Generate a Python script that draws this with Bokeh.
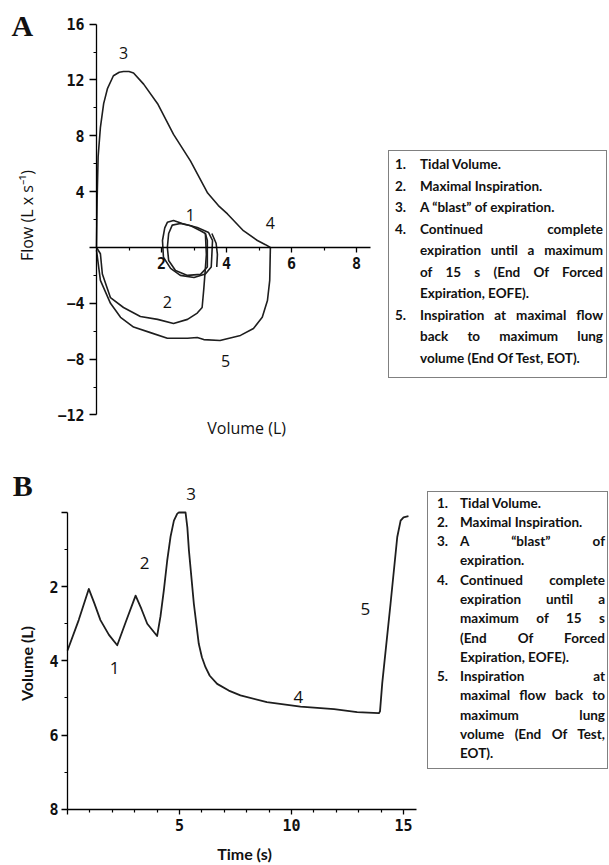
import math
from bokeh.plotting import figure
from bokeh.models import LinearAxis, FixedTicker, Range1d, Div
from bokeh.layouts import row, column
from bokeh.core.properties import value
from bokeh.embed import file_html
from bokeh.resources import INLINE

# ---------------- Panel A data: flow (L/s) vs volume (L) ----------------
tidal1_vol = [2.06, 2.03, 2.10, 2.18, 2.37, 2.64, 3.10, 3.45, 3.57, 3.55, 3.53, 3.35, 3.00, 2.58, 2.28, 2.06]
tidal1_flow = [-0.7, 0.5, 1.4, 1.8, 1.93, 1.72, 1.43, 1.07, 0.5, -0.5, -1.4, -1.9, -2.15, -2.0, -1.5, -0.7]

tidal2_vol = [2.18, 2.22, 2.33, 2.58, 2.90, 3.20, 3.35, 3.41, 3.41, 3.20, 2.80, 2.43, 2.22, 2.18]
tidal2_flow = [0.0, 1.0, 1.6, 1.72, 1.55, 1.2, 1.0, 0.5, -1.4, -1.93, -2.0, -1.65, -0.93, 0.0]

tidal3_vol = [3.55, 3.68, 3.72, 3.70]
tidal3_flow = [1.0, 0.3, -0.5, -1.4]

insp_vol = [3.35, 3.38, 3.35, 3.30, 3.25, 3.10, 2.80, 2.37, 1.88, 1.35, 0.83, 0.43, 0.18, 0.12, 0.0]
insp_flow = [1.0, -0.5, -1.5, -3.0, -4.3, -4.7, -5.15, -5.45, -5.15, -4.94, -4.3, -3.6, -1.9, -0.45, 0.0]

blast_vol = [0.0, 0.02, 0.05, 0.12, 0.22, 0.34, 0.52, 0.70, 0.83, 1.00, 1.14, 1.45, 1.88, 2.37,
             2.89, 3.42, 3.75, 4.03, 4.52, 4.95, 5.20, 5.35]
blast_flow = [0.0, 3.5, 6.5, 8.6, 10.3, 11.4, 12.3, 12.55, 12.6, 12.6, 12.5, 11.7, 10.3, 8.1,
              6.2, 3.9, 3.0, 2.4, 1.2, 0.5, 0.2, 0.0]

eot_vol = [5.35, 5.33, 5.26, 5.10, 4.83, 4.43, 3.80, 3.30, 3.10, 2.80, 2.18, 1.66, 1.14, 0.74, 0.43, 0.12, 0.0]
eot_flow = [0.0, -2.36, -3.8, -5.0, -5.8, -6.3, -6.66, -6.6, -6.45, -6.5, -6.5, -6.1, -5.7, -5.0, -4.0, -2.36, -0.2]

a_y_ticks = [-12, -8, -4, 0, 4, 8, 12, 16]
a_y_minor = [-10, -6, -2, 2, 6, 10, 14]
a_x_ticks = [2, 4, 6, 8]
a_x_minor = [1, 3, 5, 7]

# ---------------- Panel B data: volume (L) vs time (s) ----------------
time_s = [0.0, 0.5, 0.95, 1.2, 1.47, 1.85, 2.22, 2.6, 3.04, 3.3, 3.56, 4.0, 4.15, 4.3, 4.45, 4.6,
          4.75, 4.9, 4.97, 5.27, 5.35, 5.42, 5.64, 5.86, 6.0, 6.16, 6.35, 6.68, 7.2, 7.72, 8.9,
          10.4, 11.9, 12.93, 13.9, 13.95, 14.05, 14.42, 14.72, 14.87, 15.0, 15.22]
volume_l = [3.72, 2.9, 2.06, 2.45, 2.9, 3.3, 3.58, 2.95, 2.24, 2.6, 3.0, 3.33, 2.8, 2.1, 1.3, 0.65,
            0.22, 0.03, 0.0, 0.0, 0.4, 1.02, 2.46, 3.54, 3.9, 4.17, 4.4, 4.62, 4.8, 4.93, 5.11,
            5.23, 5.3, 5.38, 5.41, 5.36, 4.6, 2.46, 0.66, 0.22, 0.13, 0.1]

b_y_ticks = [0, 2, 4, 6, 8]
b_y_minor = [1, 3, 5, 7]
b_x_ticks = [0, 5, 10, 15]
b_x_minor = [1, 2, 3, 4, 6, 7, 8, 9, 11, 12, 13, 14]

curve_numbers = ["1", "2", "3", "4", "5"]

legend_a = [
    ("1", ["Tidal Volume."]),
    ("2", ["Maximal Inspiration."]),
    ("3", ["A \u201cblast\u201d of expiration."]),
    ("4", ["Continued complete", "expiration until a maximum", "of 15 s (End Of Forced", "Expiration, EOFE)."]),
    ("5", ["Inspiration at maximal flow", "back to maximum lung", "volume (End Of Test, EOT)."]),
]
legend_b = [
    ("1", ["Tidal Volume."]),
    ("2", ["Maximal Inspiration."]),
    ("3", ["A \u201cblast\u201d of", "expiration."]),
    ("4", ["Continued complete", "expiration until a", "maximum of 15 s", "(End Of Forced", "Expiration, EOFE)."]),
    ("5", ["Inspiration at", "maximal flow back to", "maximum lung", "volume (End Of Test,", "EOT)."]),
]

INK = "#1e1e1e"


def style_axis(ax, tick_out=6, standoff=5):
    ax.axis_line_color = "black"
    ax.axis_line_width = 1.3
    ax.major_tick_line_color = "black"
    ax.major_tick_line_width = 1.3
    ax.major_tick_out = tick_out
    ax.major_tick_in = 0
    ax.minor_tick_line_color = "black"
    ax.minor_tick_line_width = 1.2
    ax.minor_tick_out = 3
    ax.minor_tick_in = 0
    ax.major_label_text_font = "DejaVu Sans Mono"
    ax.major_label_text_font_style = "bold"
    ax.major_label_text_font_size = "15px"
    ax.major_label_text_color = "#111111"
    ax.major_label_standoff = standoff


def legend_html(items, width, height, pad_top, pad_left, num_w, pad_right, font_size, line_h):
    parts = []
    for num, lines in items:
        sub = []
        for i, ln in enumerate(lines):
            last = i == len(lines) - 1
            align = "text-align:left;" if last else "text-align:justify;text-align-last:justify;"
            sub.append(f'<div style="{align}">{ln}</div>')
        parts.append(
            f'<div style="display:flex;"><div style="flex:0 0 {num_w}px;">{num}.</div>'
            f'<div style="flex:1 1 auto;">{"".join(sub)}</div></div>'
        )
    return (
        f'<div style="box-sizing:border-box;width:{width}px;height:{height}px;'
        f'border:1px solid #808080;padding:{pad_top}px {pad_right}px 0 {pad_left}px;'
        f'font-family:Lato,sans-serif;font-weight:700;font-size:{font_size}px;'
        f'line-height:{line_h}px;color:#111;background:#fff;">' + "".join(parts) + "</div>"
    )


# ---------------- Panel A figure ----------------
pa = figure(width=386, height=448, x_range=Range1d(-2.954, 8.923), y_range=Range1d(-14.40, 17.69),
            x_axis_type=None, y_axis_type=None, toolbar_location=None, output_backend="svg",
            min_border=0, outline_line_color=None, background_fill_color="white",
            border_fill_color="white")

xa = LinearAxis(fixed_location=0, bounds=(0, 8.43),
                ticker=FixedTicker(ticks=a_x_ticks, minor_ticks=a_x_minor))
style_axis(xa, tick_out=5, standoff=5)
pa.add_layout(xa, "below")

ya = LinearAxis(fixed_location=0, bounds=(-12, 16),
                ticker=FixedTicker(ticks=a_y_ticks, minor_ticks=a_y_minor))
style_axis(ya, tick_out=7, standoff=5)
ya.major_label_overrides = {0: ""}
pa.add_layout(ya, "left")

for xs, ys in [(tidal1_vol, tidal1_flow), (tidal2_vol, tidal2_flow), (tidal3_vol, tidal3_flow),
               (insp_vol, insp_flow), (blast_vol, blast_flow), (eot_vol, eot_flow)]:
    pa.line(xs, ys, line_color=INK, line_width=1.6, line_join="round")

pa.text(x=[2.89, 2.18, 0.83, 5.35, 3.97], y=[2.29, -3.94, 13.9, 1.72, -8.1], text=curve_numbers,
        text_font=value("Open Sans"), text_font_size="16px", text_align="center",
        text_baseline="middle", text_color="#111111")
pa.text(x=[4.62], y=[-12.9], text=["Volume (L)"], text_font=value("Open Sans"),
        text_font_size="16px", text_align="center", text_baseline="middle", text_color="#111111")
pa.text(x=[-2.15], y=[2.29], text=["Flow (L x s\u207b\u00b9)"], angle=math.pi / 2,
        text_font=value("Open Sans"), text_font_size="16px", text_align="center",
        text_baseline="middle", text_color="#111111")
pa.text(x=[-2.28], y=[15.9], text=["A"], text_font=value("Liberation Serif"),
        text_font_style="bold", text_font_size="30px", text_align="center",
        text_baseline="middle", text_color="#111111")

# ---------------- Panel B figure ----------------
pb = figure(width=427, height=417, x_range=Range1d(-2.991, 16.07), y_range=Range1d(9.515, -1.725),
            x_axis_type=None, y_axis_type=None, toolbar_location=None, output_backend="svg",
            min_border=0, outline_line_color=None, background_fill_color="white",
            border_fill_color="white")

xb = LinearAxis(fixed_location=8, bounds=(0, 15.6),
                ticker=FixedTicker(ticks=b_x_ticks, minor_ticks=b_x_minor))
style_axis(xb, tick_out=5, standoff=5)
xb.major_label_overrides = {0: ""}
pb.add_layout(xb, "below")

yb = LinearAxis(fixed_location=0, bounds=(0, 8),
                ticker=FixedTicker(ticks=b_y_ticks, minor_ticks=b_y_minor))
style_axis(yb, tick_out=6, standoff=3)
yb.major_label_overrides = {0: ""}
pb.add_layout(yb, "left")

pb.line(time_s, volume_l, line_color=INK, line_width=1.8, line_join="round")

pb.text(x=[2.1, 3.44, 5.52, 10.3, 13.3], y=[4.18, 1.37, -0.51, 4.96, 2.6], text=curve_numbers,
        text_font=value("Open Sans"), text_font_size="17px", text_align="center",
        text_baseline="middle", text_color="#111111")
pb.text(x=[7.9], y=[9.2], text=["Time (s)"], text_font=value("Lato"), text_font_style="bold",
        text_font_size="16px", text_align="center", text_baseline="middle", text_color="#111111")
pb.text(x=[-1.83], y=[4.07], text=["Volume (L)"], angle=math.pi / 2, text_font=value("Lato"),
        text_font_style="bold", text_font_size="16px", text_align="center",
        text_baseline="middle", text_color="#111111")
pb.text(x=[-2.0], y=[-0.73], text=["B"], text_font=value("Liberation Serif"),
        text_font_style="bold", text_font_size="30px", text_align="center",
        text_baseline="middle", text_color="#111111")

# ---------------- Legend boxes ----------------
div_a = Div(text=legend_html(legend_a, 219, 228, 3, 6, 25, 3, 13.5, 21.5),
            width=219, height=228, margin=(150, 0, 0, 2))
div_b = Div(text=legend_html(legend_b, 181, 278, 1.5, 9, 23, 2, 13.5, 19.3),
            width=181, height=278, margin=(43, 0, 0, 0))

layout = column(row(pa, div_a), row(pb, div_b))

open("out.html", "w").write(file_html(layout, INLINE))
